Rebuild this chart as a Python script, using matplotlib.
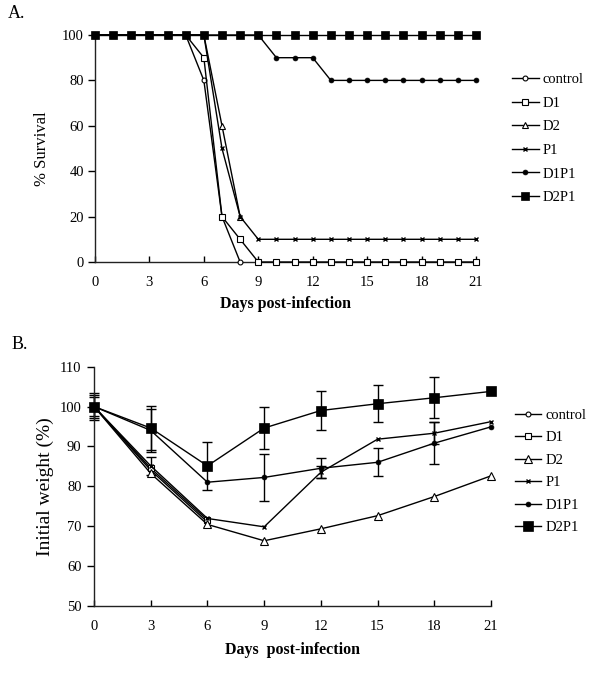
import matplotlib
matplotlib.use("Agg")
import matplotlib.pyplot as plt
import numpy as np

plt.rcParams['font.family'] = ['Liberation Serif', 'DejaVu Serif']

# ---------------- Data: Panel A (survival) ----------------
days_A = [0, 1, 2, 3, 4, 5, 6, 7, 8, 9, 10, 11, 12, 13, 14, 15, 16, 17, 18, 19, 20, 21]
control_A = [100, 100, 100, 100, 100, 100, 80, 20, 0]
D1_A = [100, 100, 100, 100, 100, 100, 90, 20, 10, 0, 0, 0, 0, 0, 0, 0, 0, 0, 0, 0, 0, 0]
D2_A = [100, 100, 100, 100, 100, 100, 100, 60, 20]
P1_A = [100, 100, 100, 100, 100, 100, 100, 50, 20, 10, 10, 10, 10, 10, 10, 10, 10, 10, 10, 10, 10, 10]
D1P1_A = [100, 100, 100, 100, 100, 100, 100, 100, 100, 100, 90, 90, 90, 80, 80, 80, 80, 80, 80, 80, 80, 80]
D2P1_A = [100, 100, 100, 100, 100, 100, 100, 100, 100, 100, 100, 100, 100, 100, 100, 100, 100, 100, 100, 100, 100, 100]

# ---------------- Data: Panel B (weight) ----------------
days_B = [0, 3, 6, 9, 12, 15, 18, 21]
control_B = [100, 84.0, 71.0]
D1_B = [100, 84.5, 71.5]
D2_B = [100, 83.2, 70.4, 66.3, 69.3, 72.6, 77.4, 82.6]
P1_B = [100, 85.1, 71.9, 69.8, 83.5, 91.8, 93.3, 96.2]
D1P1_B = [100, 94.0, 81.0, 82.2, 84.5, 86.0, 90.8, 94.9]
D2P1_B = [100, 94.6, 85.1, 94.6, 99.0, 100.7, 102.2, 103.8]
P1_err = [3.0, 2.3, 0, 0, 1.5, 0, 2.7, 0]
D1P1_err = [2.5, 5.4, 0, 6.0, 2.5, 3.5, 5.3, 0]
D2P1_err = [3.3, 5.6, 6.1, 5.3, 4.8, 4.6, 5.2, 0]

labels = ['control', 'D1', 'D2', 'P1', 'D1P1', 'D2P1']
xticks = [0, 3, 6, 9, 12, 15, 18, 21]
yticks_A = [0, 20, 40, 60, 80, 100]
yticks_B = [50, 60, 70, 80, 90, 100, 110]

def style(name, big=False):
    lw = 1.0
    if name == 'control':
        return dict(marker='o', ms=3.5, mfc='white', mec='black', mew=0.8, color='black', lw=lw)
    if name == 'D1':
        return dict(marker='s', ms=4.5, mfc='white', mec='black', mew=0.8, color='black', lw=lw)
    if name == 'D2':
        return dict(marker='^', ms=5.5 if big else 4.5, mfc='white', mec='black', mew=0.8, color='black', lw=lw)
    if name == 'P1':
        return dict(marker='x', ms=3.5, mfc='white', mec='black', mew=1.0, color='black', lw=lw)
    if name == 'D1P1':
        return dict(marker='o', ms=3.5, mfc='black', mec='black', mew=0.5, color='black', lw=lw)
    if name == 'D2P1':
        return dict(marker='s', ms=7.5 if big else 5.5, mfc='black', mec='black', mew=0.5, color='black', lw=lw)

fig = plt.figure(figsize=(6, 6.87), dpi=100)
W, H = 600, 687
axA = fig.add_axes([95 / W, 1 - 262 / H, 381 / W, 227 / H])
axB = fig.add_axes([94 / W, 1 - 605.7 / H, 397 / W, 239 / H])

# Panel A
seriesA = [control_A, D1_A, D2_A, P1_A, D1P1_A, D2P1_A]
for name, ys in zip(labels, seriesA):
    axA.plot(days_A[:len(ys)], ys, label=name, clip_on=False, zorder=3, **style(name))

axA.set_xlim(0, 21)
axA.set_ylim(0, 100)
axA.set_xticks(xticks)
axA.set_yticks(yticks_A)
axA.set_xlabel('Days post-infection', fontsize=11.5, fontweight='bold', labelpad=5)
axA.set_ylabel('% Survival', fontsize=12, labelpad=9)

# Panel B
seriesB = [control_B, D1_B, D2_B, P1_B, D1P1_B, D2P1_B]
for name, ys in zip(labels, seriesB):
    axB.plot(days_B[:len(ys)], ys, label=name, clip_on=False, zorder=3, **style(name, big=True))

for ys, err in [(P1_B, P1_err), (D1P1_B, D1P1_err), (D2P1_B, D2P1_err)]:
    idx = [i for i, e in enumerate(err) if e > 0]
    axB.errorbar([days_B[i] for i in idx], [ys[i] for i in idx], yerr=[err[i] for i in idx],
                 fmt='none', ecolor='black', elinewidth=1.0, capsize=3.5, capthick=1.0,
                 clip_on=False, zorder=2)

axB.set_xlim(0, 21)
axB.set_ylim(50, 110)
axB.set_xticks(xticks)
axB.set_yticks(yticks_B)
axB.set_xlabel('Days  post-infection', fontsize=11.5, fontweight='bold', labelpad=7)
axB.set_ylabel('Initial weight (%)', fontsize=14, labelpad=4)

for ax in (axA, axB):
    for s in ('top', 'right'):
        ax.spines[s].set_visible(False)
    for s in ('left', 'bottom'):
        ax.spines[s].set_linewidth(1.0)
        ax.spines[s].set_color('#222222')
    ax.tick_params(axis='x', direction='in', length=4, width=1, pad=10, labelsize=10.5)
    ax.tick_params(axis='y', direction='out', length=5, width=1, pad=3, labelsize=10.5)

axB.tick_params(axis='y', pad=4)

legA = axA.legend(loc='upper left', bbox_to_anchor=(1.08, 0.858), frameon=False, fontsize=10.5,
                  handlelength=1.8, handletextpad=0.3, labelspacing=0.71, borderaxespad=0)
legB = axB.legend(loc='upper left', bbox_to_anchor=(1.045, 0.848), frameon=False, fontsize=10.5,
                  handlelength=1.8, handletextpad=0.3, labelspacing=0.63, borderaxespad=0)

fig.text(8 / W, 1 - 14 / H, 'A.', fontsize=13, va='center', ha='left')
fig.text(12 / W, 1 - 345 / H, 'B.', fontsize=13, va='center', ha='left')

fig.savefig('out.png', dpi=100)
